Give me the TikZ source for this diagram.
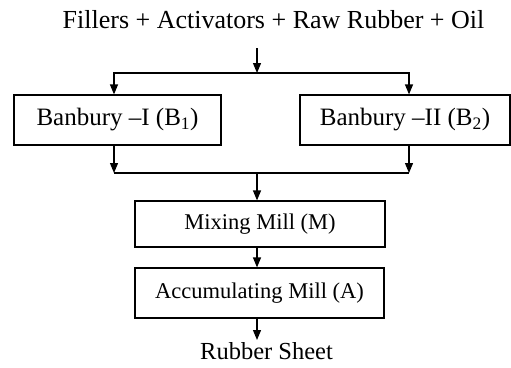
\documentclass[tikz,border=0pt]{standalone}
\usepackage{fontspec}
\setmainfont{Liberation Serif}
\usetikzlibrary{arrows.meta,positioning,calc}

\begin{document}
\begin{tikzpicture}[x=1pt,y=-1pt,
    line width=1.2pt,
    flow/.style={-{Triangle[length=10pt,width=8pt]}},
    label/.style={font=\fontsize{26}{31}\selectfont, inner sep=0pt, anchor=base},
    bigbox/.style={draw, minimum height=50pt, inner sep=0pt, font=\fontsize{25}{30}\selectfont},
    millbox/.style={draw, minimum height=50pt, inner sep=0pt, font=\fontsize{22.5}{27}\selectfont}]
    \useasboundingbox (0,0) rectangle (511,367);

    % Feed and split
    \node[label] (feed) at (273.5,28) {Fillers + Activators + Raw Rubber + Oil};
    \coordinate (top) at (257,48);
    \coordinate (split) at (257,73);
    \coordinate (lx) at (114,0);
    \coordinate (rx) at (409,0);

    % Banbury mixers
    \node[bigbox, minimum width=207pt] (ban1) at (117.5,120) {Banbury –I (B\textsubscript{1})};
    \node[bigbox, minimum width=210pt] (ban2) at (405,120) {Banbury –II (B\textsubscript{2})};

    % Mills
    \coordinate (join) at (257,173);
    \node[millbox, minimum width=250pt, minimum height=46pt] (mix) at (260,224) {Mixing Mill (M)};
    \node[millbox, minimum width=249pt] (acc) at (259.5,293) {Accumulating Mill (A)};

    % Product
    \node[label, font=\fontsize{24.5}{29}\selectfont] (sheet) at (266.5,359) {Rubber Sheet};
    \coordinate (out) at (257,340);

    % Connectors
    \draw[flow] (top) -- (split);
    \draw[flow] (split) -| (lx |- ban1.north);
    \draw[flow] (split) -| (rx |- ban2.north);
    \draw[flow] (lx |- ban1.south) -- (lx |- join);
    \draw[flow] (rx |- ban2.south) -- (rx |- join);
    \draw (lx |- join) -- (rx |- join);
    \draw[flow] (join) -- (join |- mix.north);
    \draw[flow] (join |- mix.south) -- (join |- acc.north);
    \draw[flow] (join |- acc.south) -- (out);
\end{tikzpicture}
\end{document}
